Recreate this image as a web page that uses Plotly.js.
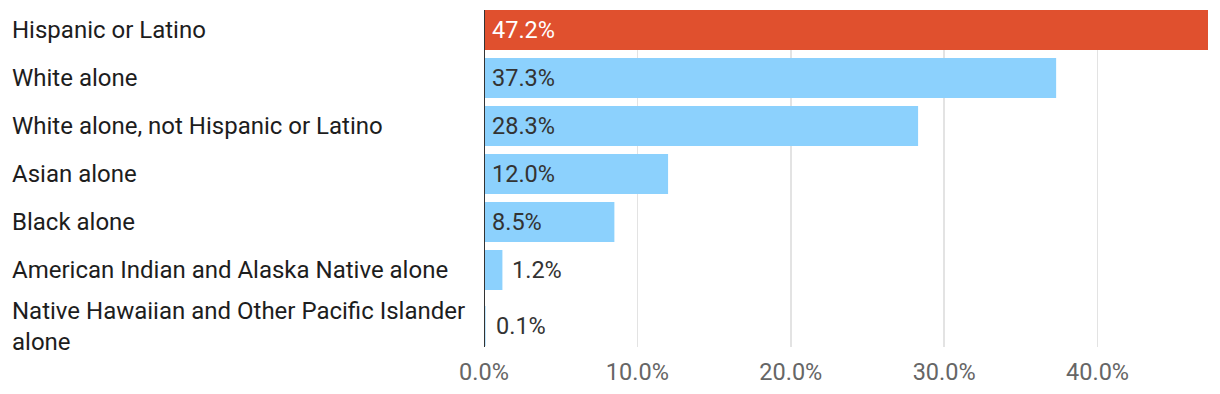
<!DOCTYPE html>
<html>
<head>
<meta charset="utf-8">
<script src="https://cdn.plot.ly/plotly-3.0.1.min.js"></script>
<style>
  html, body { margin: 0; padding: 0; background: #fff; }
  #chart { width: 1220px; height: 394px; }
</style>
</head>
<body>
<div id="chart"></div>
<script>
// ---- data ----
const categories = [
  "Hispanic or Latino",
  "White alone",
  "White alone, not Hispanic or Latino",
  "Asian alone",
  "Black alone",
  "American Indian and Alaska Native alone",
  "Native Hawaiian and Other Pacific Islander<br>alone"
];
const values = [47.2, 37.3, 28.3, 12.0, 8.5, 1.2, 0.1];
const highlight = [true, false, false, false, false, false, false];
const tickValues = [0, 10, 20, 30, 40];
const tickLabels = ["0.0%", "10.0%", "20.0%", "30.0%", "40.0%"];

// ---- style ----
const RED = "#e0502e";
const BLUE = "#8cd1fd";
const FONT = "Roboto, 'Open Sans', sans-serif";
const ROW_PX = 48;          // pixel pitch of a row
const BAR_PX = 40;          // bar thickness
const barW = BAR_PX / ROW_PX;
// rows with a two-line label are pushed down a little
const extraPx = categories.map(c => c.includes("<br>") ? 8 : 0);
const offsets = extraPx.map(px => -barW / 2 + px / ROW_PX);

const trace = {
  type: "bar",
  orientation: "h",
  x: values,
  y: categories,
  width: categories.map(() => barW),
  offset: offsets,
  marker: { color: highlight.map(h => h ? RED : BLUE) },
  hoverinfo: "none",
  showlegend: false
};

const annotations = [];
categories.forEach((c, i) => {
  annotations.push({
    xref: "paper", yref: "y",
    x: -0.6547, y: c, yshift: -extraPx[i],
    xanchor: "left", yanchor: "middle", align: "left",
    text: c, showarrow: false,
    font: { family: FONT, size: 24, color: "#1d1d1d" }
  });
  const inside = values[i] >= 5;
  annotations.push({
    xref: "x", yref: "y",
    x: inside ? 0 : values[i], y: c,
    xshift: inside ? 6 : 8, yshift: -extraPx[i],
    xanchor: "left", yanchor: "middle",
    text: values[i].toFixed(1) + "%", showarrow: false,
    font: { family: FONT, size: 23.5, color: (inside && highlight[i]) ? "#ffffff" : "#333333" }
  });
});

const layout = {
  width: 1220, height: 394,
  margin: { l: 484, r: 12, t: 10, b: 47, pad: 0 },
  paper_bgcolor: "#fff", plot_bgcolor: "#fff",
  font: { family: FONT },
  xaxis: {
    range: [0, 47.2],
    tickvals: tickValues, ticktext: tickLabels,
    showgrid: true, gridcolor: "#e3e3e3", gridwidth: 1.5,
    zeroline: false, showline: false, ticks: "",
    ticklabelstandoff: 8,
    tickfont: { family: FONT, size: 23.5, color: "#666666" },
    fixedrange: true
  },
  yaxis: {
    type: "category",
    range: [(394 - 47 - 10 - 20) / ROW_PX, -20 / ROW_PX],
    showticklabels: false, showgrid: false, zeroline: false, ticks: "",
    fixedrange: true
  },
  shapes: [{
    type: "line", xref: "x", yref: "paper",
    x0: 0, x1: 0, y0: 0, y1: 1, layer: "above",
    line: { color: "#333333", width: 2 }
  }],
  annotations: annotations
};

Plotly.newPlot("chart", [trace], layout, { staticPlot: true, displayModeBar: false });
</script>
</body>
</html>
